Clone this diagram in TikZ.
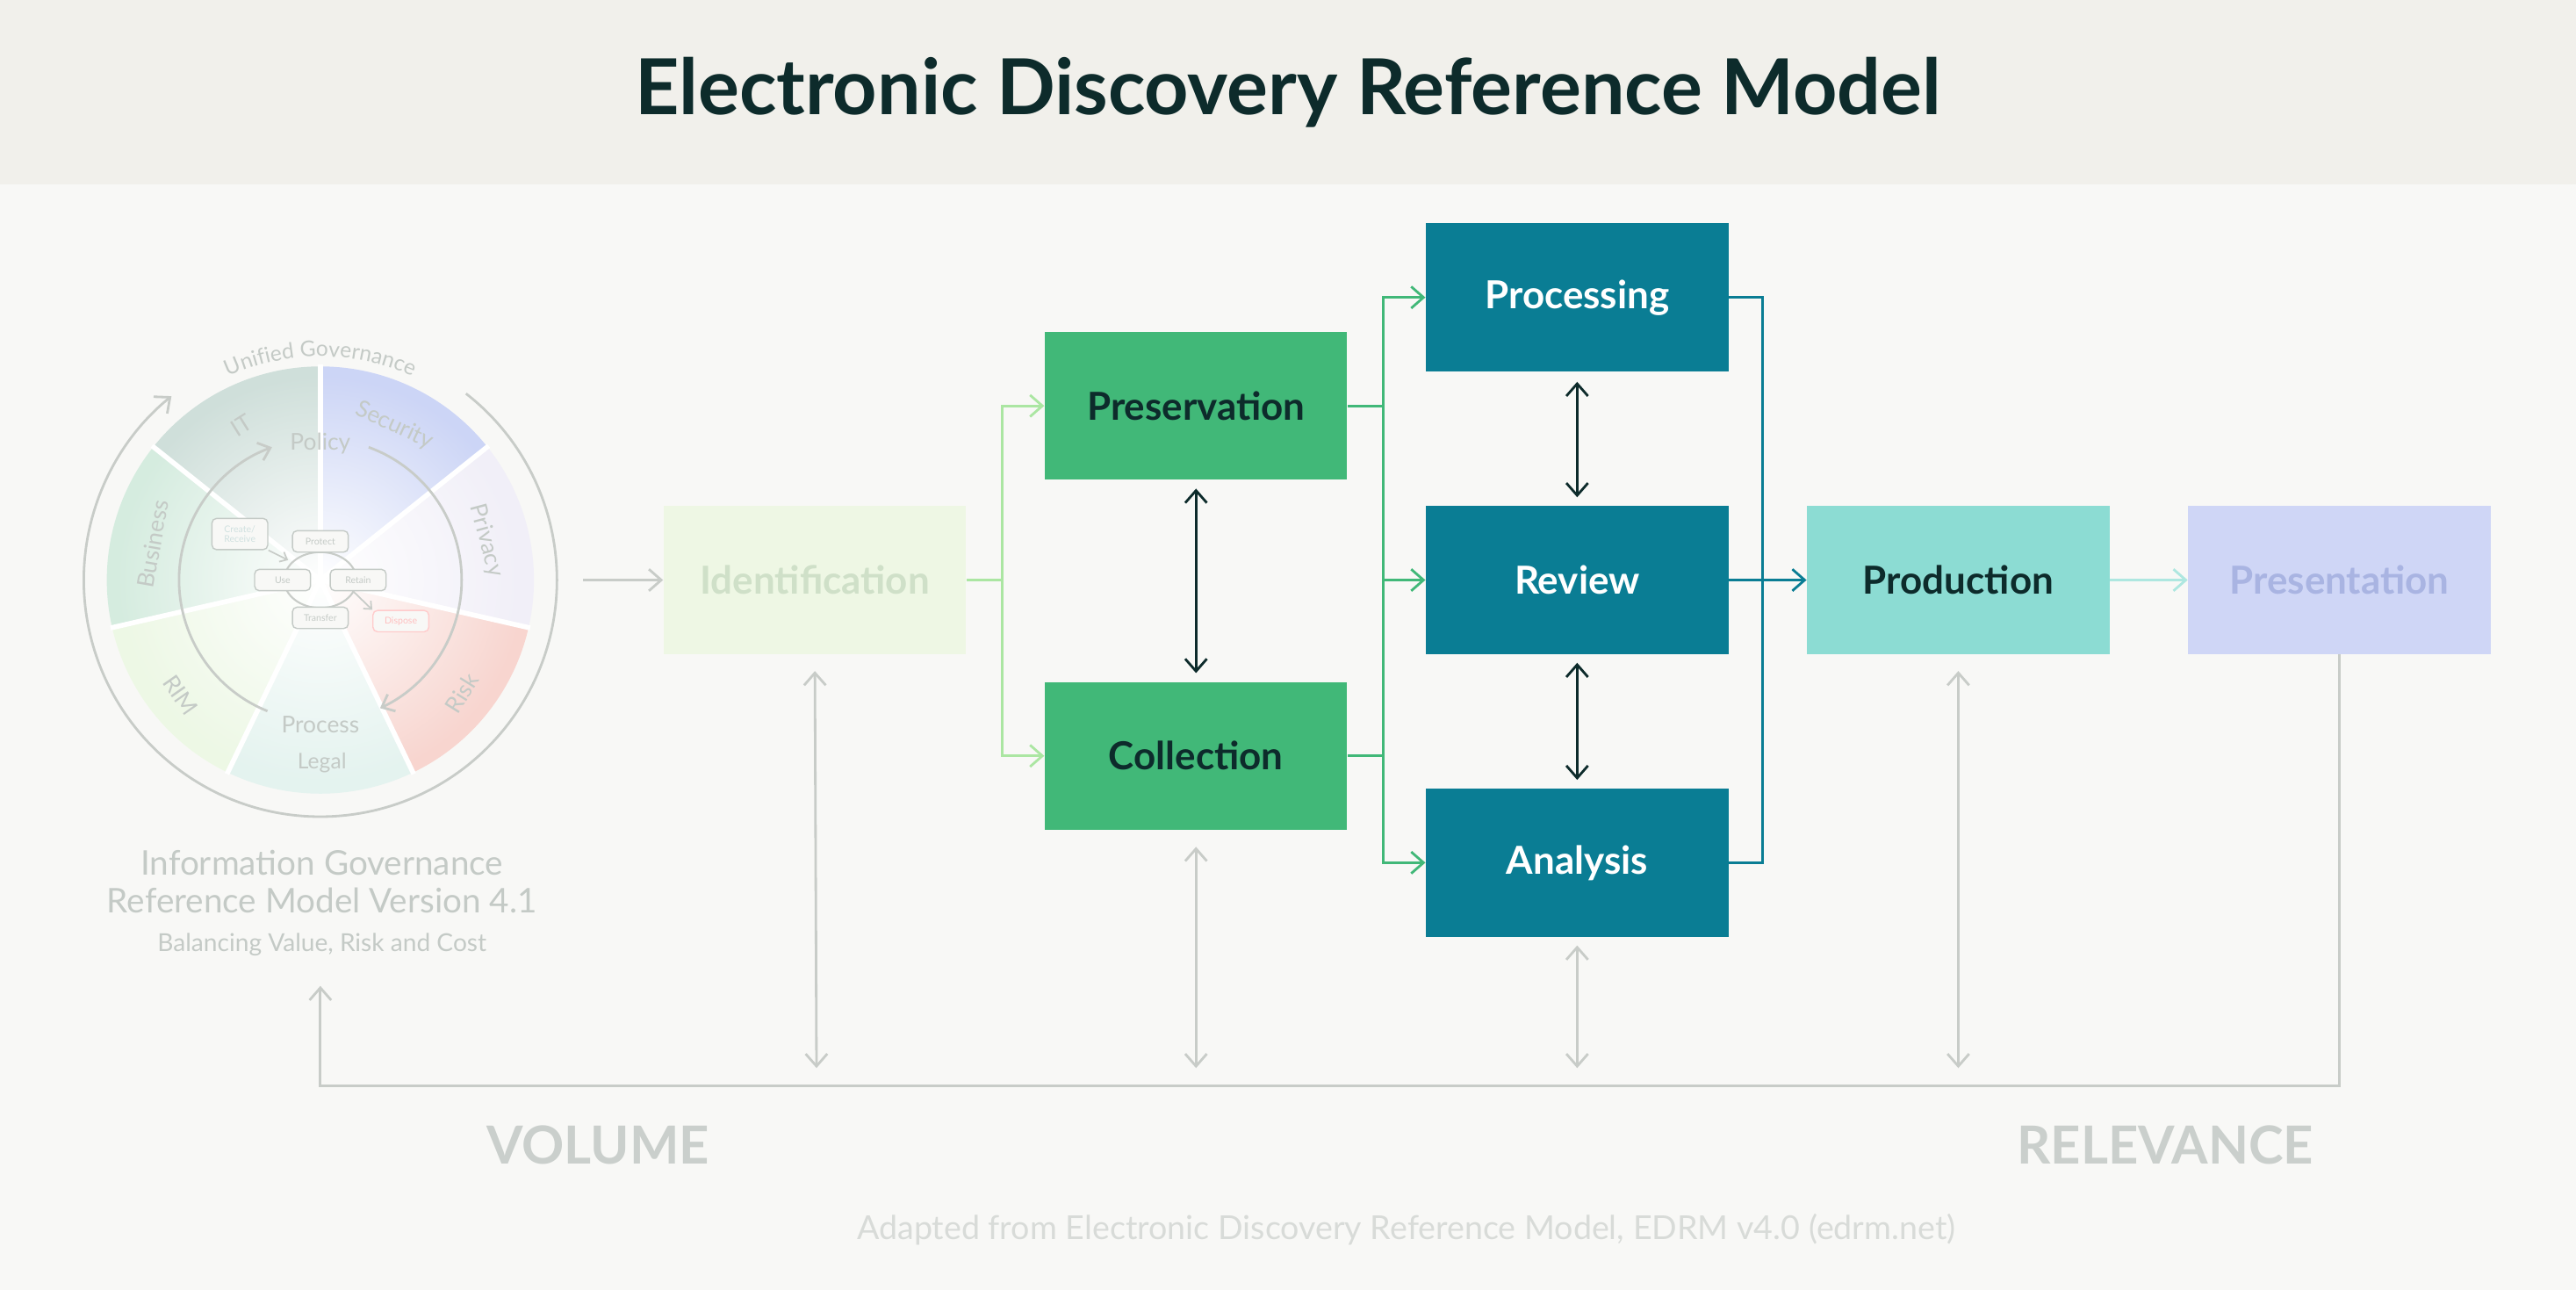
\documentclass[tikz,border=0pt]{standalone}
\usepackage{fontspec}
\setmainfont{Lato}
\usetikzlibrary{arrows.meta,fadings,decorations.text}
\tikzfading[name=myfade,inner color=transparent!0,outer color=transparent!100]
\definecolor{bgc}{HTML}{F8F8F6}
\definecolor{band}{HTML}{F1F0EB}
\definecolor{dark}{HTML}{0D2B2B}
\definecolor{gr}{HTML}{41B878}
\definecolor{te}{HTML}{0A7D94}
\definecolor{lte}{HTML}{8CDCD3}
\definecolor{lgr}{HTML}{ABE6A2}
\definecolor{idf}{HTML}{EEF7E4}
\definecolor{idt}{HTML}{CFE0C8}
\definecolor{prf}{HTML}{CFD6F6}
\definecolor{prt}{HTML}{A9B4E2}
\definecolor{gry}{HTML}{C8CCC8}
\definecolor{wt}{HTML}{C4CAC6}
\begin{document}
\begin{tikzpicture}[x=0.01871cm,y=-0.01871cm,
  box/.style={minimum width=184*0.01871cm,minimum height=90*0.01871cm,inner sep=0pt,font=\fontsize{12.5}{14}\selectfont\bfseries},
  arr/.style={-{Straight Barb[length=4pt,width=7pt]},line width=0.8pt},
  darr/.style={{Straight Barb[length=4pt,width=7pt]}-{Straight Barb[length=4pt,width=7pt]},line width=0.8pt},
  sb/.style={draw=wt,rounded corners=1.5pt,line width=0.4pt,inner sep=1pt,minimum width=34*0.01871cm,minimum height=13*0.01871cm,font=\fontsize{3}{3.4}\selectfont,text=wt},
  wl/.style={text=wt,font=\fontsize{7.5}{8}\selectfont}]
\fill[bgc] (0,0) rectangle (1568,785);
\fill[band] (0,0) rectangle (1568,112);
\node[text=dark,font=\fontsize{25}{29}\selectfont\bfseries] (title) at (784,56) {Electronic Discovery Reference Model};

% wheel
\begin{scope}[shift={(195,353)},x=0.01871cm,y=0.01871cm]
\foreach \a/\c in {90/CCD5F6,38.57/F1EFF8,-12.86/F8D5CF,-64.29/E4F3EF,-115.71/EDF8E5,-167.14/D5ECDF,-218.57/CFDFDA}{
  \definecolor{wc}{HTML}{\c}
  \fill[wc] (0,0) -- (\a:130) arc (\a:\a-51.43:130) -- cycle;}
\fill[white,path fading=myfade] (0,0) circle (125);
\foreach \a in {90,38.57,-12.86,-64.29,-115.71,-167.14,-218.57}
  \draw[white,line width=1.6pt] (0,0) -- (\a:131);
\draw[gry,line width=0.8pt,-{Straight Barb[length=4pt,width=7pt]}] (52:144) arc (52:-231:144);
\draw[gry,line width=0.8pt,-{Straight Barb[length=3.5pt,width=6pt]}] (248:86) arc (248:110:86);
\draw[gry,line width=0.8pt,-{Straight Barb[length=3.5pt,width=6pt]}] (70:86) arc (70:-65:86);
\path[decorate,decoration={text along path,text align=center,text={|\color{wt}\fontsize{7}{8}\selectfont|Unified Governance}}] (121:136) arc (121:59:136);
\node[wl,rotate=32] (it) at (-48,94) {IT};
\node[wl] (policy) at (0,83) {Policy};
\node[wl,rotate=-25] (sec) at (45,94) {Security};
\node[wl,rotate=-75] (priv) at (101,24) {Privacy};
\node[wl,rotate=58] (risk) at (86,-69) {Risk};
\node[wl] (proc) at (0,-88) {Process};
\node[wl,font=\fontsize{7}{8}\selectfont] (legal) at (1,-111) {Legal};
\node[wl,rotate=-55] (rim) at (-85,-70) {RIM};
\node[wl,rotate=80] (bus) at (-102,22) {Business};
\draw[gry,line width=0.6pt] (0,0) ellipse (22 and 17);
\node[sb,fill=bgc,minimum height=19*0.01871cm,align=center,text=wt!70!teal!40] (cr) at (-49,28) {Create/\\Receive};
\node[sb,fill=bgc] (pt) at (0,23.5) {Protect};
\node[sb,fill=bgc] (use) at (-23,0) {Use};
\node[sb,fill=bgc] (ret) at (23,0) {Retain};
\node[sb,fill=bgc] (tr) at (0,-23) {Transfer};
\node[sb,fill=bgc,draw=red!20,text=red!25] (dis) at (49,-25) {Dispose};
\draw[gry,line width=0.5pt,-{Straight Barb[length=2pt,width=3.5pt]}] (cr.south east) -- ++(12,-6);
\draw[gry,line width=0.5pt,-{Straight Barb[length=2pt,width=3.5pt]}] (ret.south) ++(-3,0) -- (dis.north west);
\end{scope}
\node[text=wt,font=\fontsize{11}{13}\selectfont] (ig1) at (196,525) {Information Governance};
\node[text=wt,font=\fontsize{11}{13}\selectfont] (ig2) at (196,548) {Reference Model Version 4.1};
\node[text=wt,font=\fontsize{8}{9}\selectfont] (ig3) at (196,575) {Balancing Value, Risk and Cost};
\coordinate (wr) at (355,353);

% boxes
\node[box,fill=idf,text=idt] (ide) at (496,353) {Identification};
\node[box,fill=gr,text=dark] (pres) at (728,247) {Preservation};
\node[box,fill=gr,text=dark] (coll) at (728,460) {Collection};
\node[box,fill=te,text=white] (prc) at (960,181) {Processing};
\node[box,fill=te,text=white] (rev) at (960,353) {Review};
\node[box,fill=te,text=white] (ana) at (960,525) {Analysis};
\node[box,fill=lte,text=dark] (prod) at (1192,353) {Production};
\node[box,fill=prf,text=prt] (pre) at (1424,353) {Presentation};

\draw[arr,gry] (wr) -- (ide.west);
\draw[lgr,line width=0.8pt] (ide.east) -- (610,353);
\draw[arr,lgr] (610,353) |- (pres.west);
\draw[arr,lgr] (610,353) |- (coll.west);
\draw[darr,dark] ([yshift=-5*0.01871cm]pres.south) -- ([yshift=5*0.01871cm]coll.north);
\draw[gr,line width=0.8pt] (pres.east) -- (842,247);
\draw[gr,line width=0.8pt] (coll.east) -- (842,460);
\draw[arr,gr] (842,353) |- (prc.west);
\draw[arr,gr] (842,353) |- (ana.west);
\draw[arr,gr] (842,353) -- (rev.west);
\draw[darr,dark] ([yshift=-6*0.01871cm]prc.south) -- ([yshift=5*0.01871cm]rev.north);
\draw[darr,dark] ([yshift=-5*0.01871cm]rev.south) -- ([yshift=5*0.01871cm]ana.north);
\draw[te,line width=0.8pt] (prc.east) -- (1073,181) -- (1073,525) -- (ana.east);
\draw[arr,te] (rev.east) -- (prod.west);
\draw[arr,lte!70!white] (prod.east) -- (pre.west);

\coordinate (b1) at (497,650); \coordinate (b2) at (728,650);
\coordinate (b3) at (960,650); \coordinate (b4) at (1192,650);
\draw[darr,gry] ([yshift=-10*0.01871cm]ide.south) -- (b1);
\draw[darr,gry] ([yshift=-10*0.01871cm]coll.south) -- (b2);
\draw[darr,gry] ([yshift=-5*0.01871cm]ana.south) -- (b3);
\draw[darr,gry] ([yshift=-10*0.01871cm]prod.south) -- (b4);
\coordinate (wb) at (195,600);
\draw[arr,gry] (pre.south) -- (1424,661) -- (195,661) -- (wb);

\node[text=wt!90!white,font=\fontsize{17}{19}\selectfont\bfseries] (vol) at (364,697) {VOLUME};
\node[text=wt!90!white,font=\fontsize{17}{19}\selectfont\bfseries] (rel) at (1318,697) {RELEVANCE};
\node[text=gry!70!white,font=\fontsize{10.7}{12}\selectfont] (src) at (856,748) {Adapted from Electronic Discovery Reference Model, EDRM v4.0 (edrm.net)};
\end{tikzpicture}
\end{document}
